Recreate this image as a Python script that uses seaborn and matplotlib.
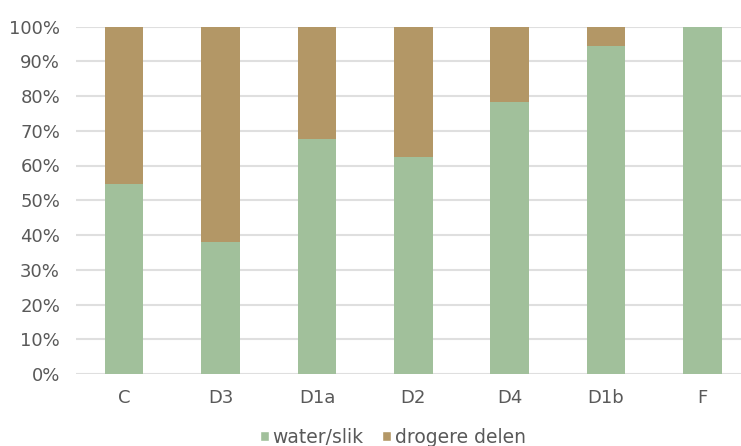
import matplotlib
matplotlib.use("Agg")
import matplotlib.pyplot as plt
import seaborn as sns
import pandas as pd
from matplotlib.patches import Patch

categories = ["C", "D3", "D1a", "D2", "D4", "D1b", "F"]
water_slik = [54.6, 38.0, 67.5, 62.4, 78.2, 94.4, 100.0]
drogere_delen = [100 - v for v in water_slik]
y_ticks = [0, 10, 20, 30, 40, 50, 60, 70, 80, 90, 100]

green = "#A1C09B"
brown = "#B39766"
text_color = "#595959"

sns.set_theme(style="white")
plt.rcParams["font.family"] = ["DejaVu Sans"]

df = pd.DataFrame({
    "gebied": categories,
    "water/slik": water_slik,
    "drogere delen": drogere_delen,
})
df["totaal"] = df["water/slik"] + df["drogere delen"]

fig = plt.figure(figsize=(7.41, 4.46), dpi=100)
ax = fig.add_axes([76 / 741, 72 / 446, 665 / 741, 347.5 / 446])

# stacked bars: full height in brown, water/slik part over it in green
sns.barplot(data=df, x="gebied", y="totaal", color=brown, width=0.4,
            saturation=1, linewidth=0, ax=ax, zorder=3)
sns.barplot(data=df, x="gebied", y="water/slik", color=green, width=0.4,
            saturation=1, linewidth=0, ax=ax, zorder=4)

ax.set_ylim(0, 100)
ax.set_xlim(-0.5, 6.4)
ax.set_yticks(y_ticks)
ax.set_yticklabels([f"{t}%" for t in y_ticks])
ax.yaxis.grid(True, color="#DFDFDF", linewidth=1.5, zorder=0)
ax.set_axisbelow(True)
for s in ax.spines.values():
    s.set_visible(False)
ax.set_xlabel("")
ax.set_ylabel("")
ax.tick_params(axis="both", length=0, labelsize=13, labelcolor=text_color)
ax.tick_params(axis="y", pad=11.5)
ax.tick_params(axis="x", pad=10.5)

handles = [Patch(facecolor=green, label="water/slik"),
           Patch(facecolor=brown, label="drogere delen")]
fig.legend(handles=handles, loc="center", bbox_to_anchor=(393 / 741, 1 - 437.5 / 446),
           ncol=2, frameon=False, fontsize=13.5, labelcolor=text_color,
           handlelength=0.45, handleheight=0.45, handletextpad=0.2, columnspacing=1.0)

fig.savefig("out.png", dpi=100)
